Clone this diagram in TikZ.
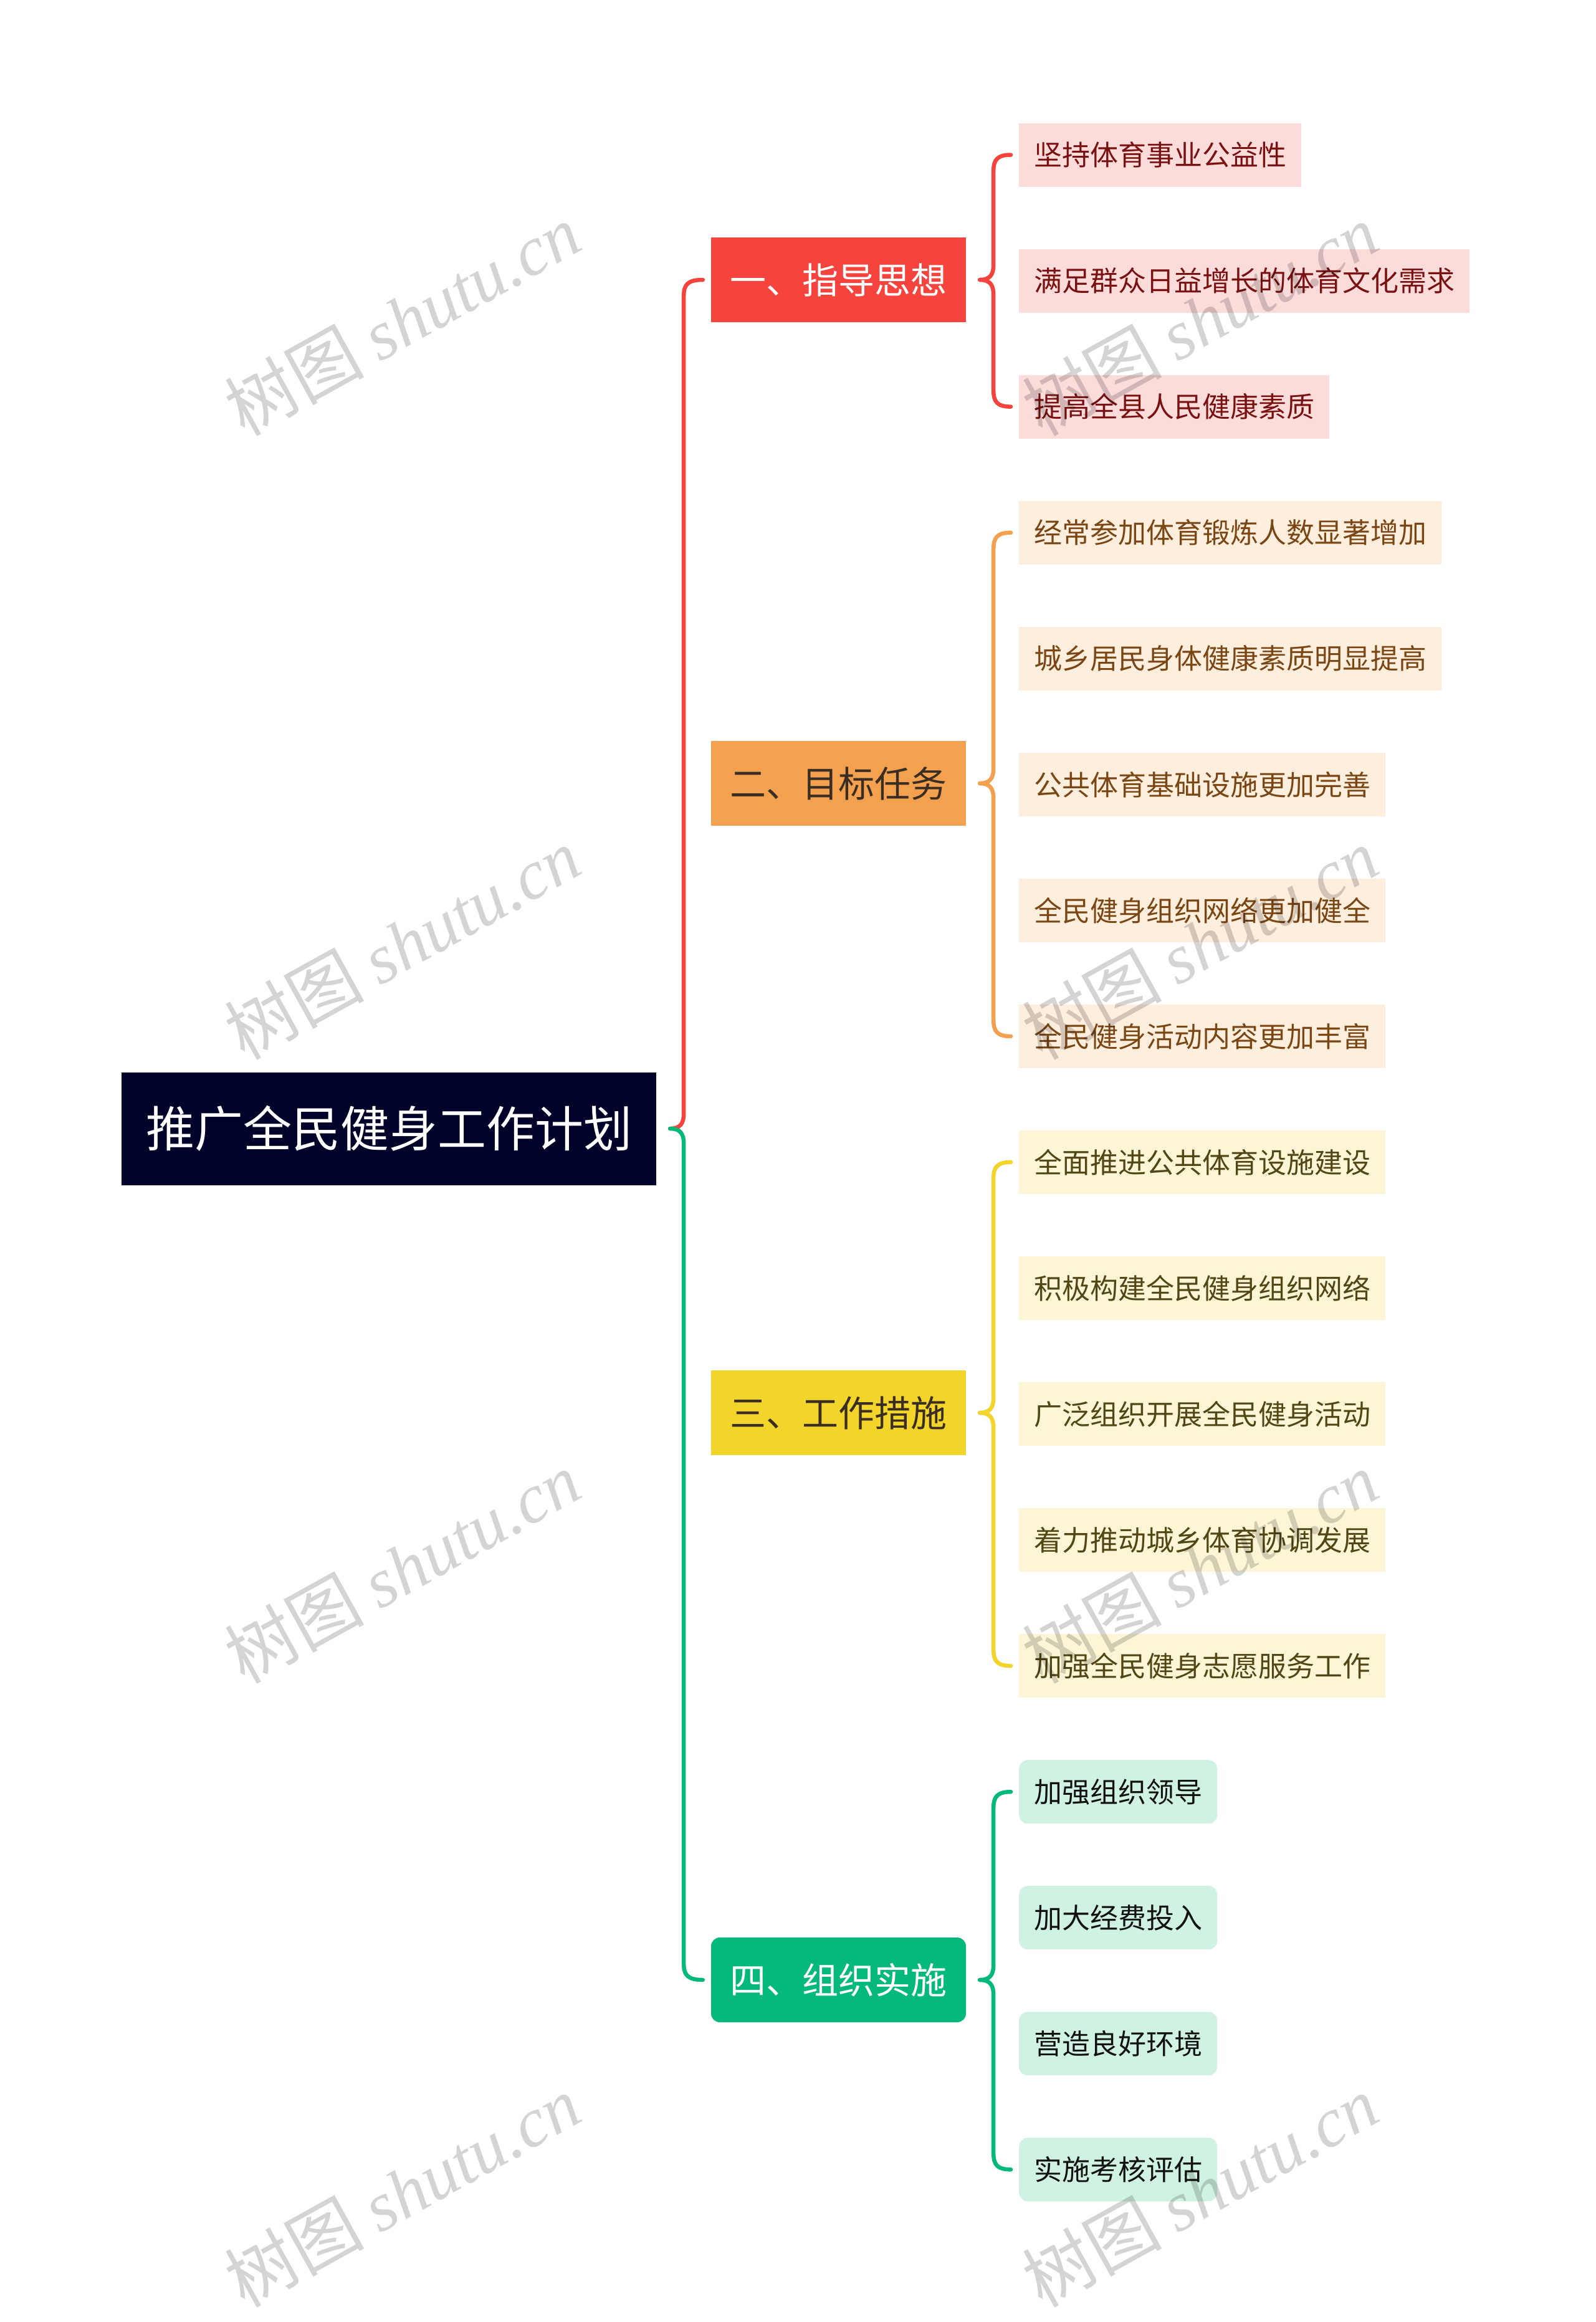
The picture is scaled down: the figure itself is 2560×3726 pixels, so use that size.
\documentclass[tikz,border=0pt]{standalone}
\usepackage{fontspec}
\setmainfont{Noto Sans CJK SC}
\newfontfamily\wmlatin{Liberation Serif}
\usetikzlibrary{calc}
\definecolor{rootbg}{HTML}{000229}
\definecolor{cRed}{HTML}{F5443E}
\definecolor{cOrange}{HTML}{F4A14F}
\definecolor{cYellow}{HTML}{F2D42A}
\definecolor{cGreen}{HTML}{04B97A}
\definecolor{fRed}{HTML}{FCDCDB}
\definecolor{fOrange}{HTML}{FDEEDD}
\definecolor{fYellow}{HTML}{FCF6D7}
\definecolor{fGreen}{HTML}{CFF2E2}
\definecolor{tRed}{HTML}{7A1111}
\definecolor{tOrange}{HTML}{7A4614}
\definecolor{tYellow}{HTML}{524614}
\definecolor{tGreen}{HTML}{111111}
\definecolor{tDark}{HTML}{3A2E22}
\tikzset{
  rootbox/.style={fill=rootbg, text=white, minimum width=858pt, minimum height=181pt, inner sep=0pt, font=\fontsize{78}{90}\selectfont},
  lone/.style={minimum width=409pt, minimum height=136pt, inner sep=0pt, font=\fontsize{58}{68}\selectfont},
  ltwo/.style={anchor=west, minimum height=102pt, inner xsep=24pt, inner ysep=0pt, font=\fontsize{45}{54}\selectfont},
  conn/.style={line width=6.5pt, line cap=round},
  bup/.style={to path={let \p1=(\tikztostart), \p2=(\tikztotarget) in
     (\x1+22pt,\y1) .. controls (\x1+38pt,\y1) and (\x1+44pt,\y1+8pt) .. (\x1+44pt,\y1+24pt)
     -- (\x1+44pt,\y2-26pt) .. controls (\x1+44pt,\y2-8pt) and (\x1+50pt,\y2) .. (\x2-13pt,\y2)}},
  bdown/.style={to path={let \p1=(\tikztostart), \p2=(\tikztotarget) in
     (\x1+22pt,\y1) .. controls (\x1+38pt,\y1) and (\x1+44pt,\y1-8pt) .. (\x1+44pt,\y1-24pt)
     -- (\x1+44pt,\y2+26pt) .. controls (\x1+44pt,\y2+8pt) and (\x1+50pt,\y2) .. (\x2-13pt,\y2)}},
  wmark/.style={rotate=29, text=black, opacity=0.17, font=\fontsize{112}{120}\selectfont, inner sep=0pt},
}
\begin{document}
\begin{tikzpicture}[x=1pt,y=-1pt]
\useasboundingbox[fill=white] (0,0) rectangle (2560,3726);
% root
\node[rootbox] (root) at (624,1811) {推广全民健身工作计划};
% level 1
\node[lone, fill=cRed, text=white] (A) at (1345.5,449) {一、指导思想};
\node[lone, fill=cOrange, text=tDark] (B) at (1345.5,1257) {二、目标任务};
\node[lone, fill=cYellow, text=tDark] (C) at (1345.5,2267) {三、工作措施};
\node[lone, fill=cGreen, text=white, rounded corners=14pt] (D) at (1345.5,3177) {四、组织实施};
% level 2
\node[ltwo, fill=fRed, text=tRed] (a1) at (1635,248.5) {坚持体育事业公益性};
\node[ltwo, fill=fRed, text=tRed] (a2) at (1635,450.6) {满足群众日益增长的体育文化需求};
\node[ltwo, fill=fRed, text=tRed] (a3) at (1635,652.6) {提高全县人民健康素质};
\node[ltwo, fill=fOrange, text=tOrange] (b1) at (1635,854.7) {经常参加体育锻炼人数显著增加};
\node[ltwo, fill=fOrange, text=tOrange] (b2) at (1635,1056.7) {城乡居民身体健康素质明显提高};
\node[ltwo, fill=fOrange, text=tOrange] (b3) at (1635,1258.8) {公共体育基础设施更加完善};
\node[ltwo, fill=fOrange, text=tOrange] (b4) at (1635,1460.8) {全民健身组织网络更加健全};
\node[ltwo, fill=fOrange, text=tOrange] (b5) at (1635,1662.9) {全民健身活动内容更加丰富};
\node[ltwo, fill=fYellow, text=tYellow] (c1) at (1635,1864.9) {全面推进公共体育设施建设};
\node[ltwo, fill=fYellow, text=tYellow] (c2) at (1635,2067) {积极构建全民健身组织网络};
\node[ltwo, fill=fYellow, text=tYellow] (c3) at (1635,2269) {广泛组织开展全民健身活动};
\node[ltwo, fill=fYellow, text=tYellow] (c4) at (1635,2471.1) {着力推动城乡体育协调发展};
\node[ltwo, fill=fYellow, text=tYellow] (c5) at (1635,2673.1) {加强全民健身志愿服务工作};
\node[ltwo, fill=fGreen, text=tGreen, rounded corners=14pt] (d1) at (1635,2875.2) {加强组织领导};
\node[ltwo, fill=fGreen, text=tGreen, rounded corners=14pt] (d2) at (1635,3077.2) {加大经费投入};
\node[ltwo, fill=fGreen, text=tGreen, rounded corners=14pt] (d3) at (1635,3279.3) {营造良好环境};
\node[ltwo, fill=fGreen, text=tGreen, rounded corners=14pt] (d4) at (1635,3481.3) {实施考核评估};
% connectors
\draw[conn, cRed] (root.east) to[bup] (A.west);
\draw[conn, cGreen] (root.east) to[bdown] (D.west);
\draw[conn, cRed] (A.east) to[bup] (a1.west);
\draw[conn, cRed] (A.east) to[bdown] (a3.west);
\draw[conn, cOrange] (B.east) to[bup] (b1.west);
\draw[conn, cOrange] (B.east) to[bdown] (b5.west);
\draw[conn, cYellow] (C.east) to[bup] (c1.west);
\draw[conn, cYellow] (C.east) to[bdown] (c5.west);
\draw[conn, cGreen] (D.east) to[bup] (d1.west);
\draw[conn, cGreen] (D.east) to[bdown] (d4.west);
% watermarks
\foreach \wy [count=\i] in {513,1514,2515,3516} {
  \node[wmark] (wl\i) at (645,\wy) {树图 {\wmlatin\itshape shutu.cn}};
  \node[wmark] (wr\i) at (1925,\wy) {树图 {\wmlatin\itshape shutu.cn}};
}
\end{tikzpicture}
\end{document}
